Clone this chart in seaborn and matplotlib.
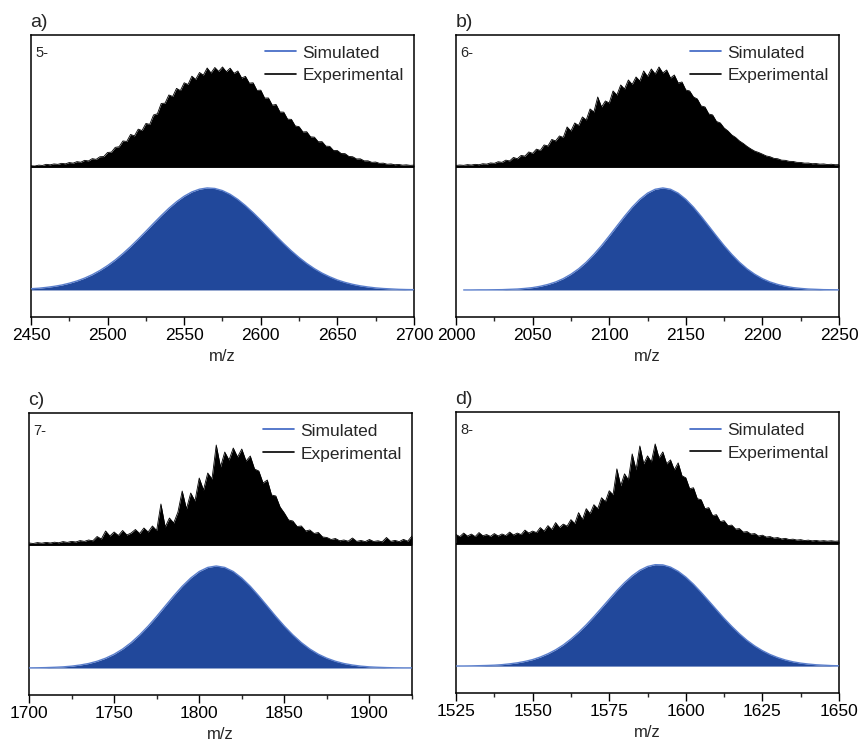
import numpy as np
import pandas as pd
import matplotlib
matplotlib.use("Agg")
import matplotlib.pyplot as plt
from matplotlib.ticker import MultipleLocator, AutoMinorLocator
from matplotlib.lines import Line2D
import seaborn as sns

# ---------------- data ----------------
panel_letters = ["a)", "b)", "c)", "d)"]
charge_states = ["5-", "6-", "7-", "8-"]
x_ranges = [(2450, 2700), (2000, 2250), (1700, 1925), (1525, 1650)]
x_major = [50, 50, 50, 25]

# experimental spectra (relative intensity, %), sampled on a regular m/z grid
exp_grid = [(2450, 2.5), (2000, 2.5), (1700, 2.5), (1525, 1.25)]

exp_5 = [
    1.2, 0.9, 1.8, 1.5, 2.6, 2.1, 3.0, 2.6, 3.6, 3.1,
    4.4, 3.8, 5.3, 4.7, 6.6, 6.0, 8.3, 7.6, 10.2, 10.4,
    14.5, 14.8, 19.6, 20.2, 26.0, 25.5, 32.5, 31.0, 37.8, 36.4,
    43.5, 42.6, 52.0, 53.2, 63.5, 63.8, 72.0, 70.5, 78.6, 76.4,
    84.2, 82.5, 90.8, 87.6, 94.5, 91.8, 99.0, 94.0, 99.5, 95.6,
    100.0, 95.2, 98.8, 93.6, 96.0, 89.0, 90.6, 83.8, 84.2, 76.6,
    76.8, 68.9, 69.0, 61.8, 62.5, 55.0, 54.8, 47.8, 47.6, 41.0,
    40.3, 35.0, 35.2, 30.1, 29.8, 25.2, 25.3, 20.8, 20.6, 16.4,
    16.4, 13.4, 13.3, 10.5, 10.2, 8.0, 8.1, 6.1, 6.1, 4.6,
    4.9, 3.6, 3.8, 2.7, 3.0, 2.2, 2.5, 1.8, 2.1, 1.6,
    1.8,
]
exp_6 = [
    1.5, 1.9, 1.6, 2.3, 1.9, 2.6, 2.2, 3.2, 2.8, 4.0,
    3.6, 5.2, 4.6, 6.8, 6.0, 9.5, 8.2, 11.5, 10.8, 15.0,
    13.6, 17.8, 16.5, 22.0, 21.0, 27.5, 26.0, 31.0, 29.5, 40.0,
    36.0, 44.0, 41.5, 50.0, 47.0, 58.0, 55.0, 70.0, 60.0, 66.0,
    64.0, 76.0, 72.0, 82.0, 78.0, 87.0, 82.5, 90.0, 86.0, 96.0,
    90.5, 98.0, 93.0, 100.0, 94.0, 97.0, 89.0, 92.0, 84.0, 85.0,
    77.0, 76.0, 70.0, 68.0, 61.0, 60.0, 53.0, 52.0, 45.5, 44.0,
    39.0, 36.0, 32.0, 29.5, 26.0, 23.5, 20.5, 18.0, 15.8, 14.5,
    12.8, 11.0, 10.2, 8.6, 8.2, 6.8, 6.6, 5.6, 5.5, 4.6,
    4.5, 3.8, 3.9, 3.2, 3.4, 2.8, 3.0, 2.4, 2.7, 2.2,
    2.3,
]
exp_7 = [
    2.0, 1.5, 2.4, 1.8, 2.6, 2.0, 2.8, 2.2, 3.4, 2.6,
    3.6, 3.0, 4.4, 3.6, 5.0, 4.2, 8.5, 6.0, 14.0, 9.0,
    13.0, 9.5, 14.5, 10.0, 12.0, 15.5, 11.5, 17.0, 13.0, 19.0,
    14.5, 41.0, 18.0, 27.0, 22.0, 33.0, 54.0, 36.0, 52.0, 44.0,
    67.0, 55.0, 72.0, 66.0, 100.0, 78.0, 93.0, 85.0, 97.0, 88.0,
    96.0, 84.0, 89.0, 76.0, 74.0, 62.0, 65.0, 50.0, 49.0, 38.0,
    32.0, 25.0, 24.0, 18.5, 19.0, 14.0, 15.0, 11.5, 12.5, 8.0,
    7.5, 5.5, 6.5, 4.2, 5.0, 3.8, 7.0, 3.6, 4.5, 3.4,
    5.5, 3.5, 4.2, 3.2, 7.5, 3.6, 4.6, 3.4, 5.6, 3.8,
    9.0,
]
exp_8 = [
    9.0, 7.0, 10.5, 7.5, 9.5, 7.0, 11.0, 7.8, 9.0, 7.2,
    10.0, 7.6, 9.6, 8.0, 11.5, 8.6, 10.5, 9.0, 13.5, 10.5,
    12.5, 11.0, 16.0, 12.5, 18.0, 14.0, 21.0, 16.0, 19.5, 17.5,
    24.0, 20.0, 31.0, 24.0, 35.0, 30.0, 39.0, 35.0, 46.0, 42.0,
    53.0, 49.0, 75.0, 58.0, 70.0, 64.0, 90.0, 74.0, 98.0, 80.0,
    88.0, 82.0, 100.0, 86.0, 92.0, 80.0, 84.0, 74.0, 81.0, 68.0,
    66.0, 55.0, 56.0, 45.0, 44.0, 35.0, 36.0, 28.0, 29.0, 22.0,
    23.0, 18.0, 18.5, 14.5, 15.0, 11.5, 12.0, 9.5, 10.0, 7.5,
    8.4, 6.5, 7.0, 5.5, 6.0, 4.6, 5.2, 4.0, 4.4, 3.5,
    3.9, 3.0, 3.4, 2.7, 3.1, 2.5, 2.9, 2.4, 2.8, 2.3,
    2.6,
]

# simulated isotope envelopes (relative intensity, %)
sim_grid = [(2450, 5), (2005, 5), (1700, 5), (1525, 2.5)]

sim_5 = [
    1.2, 1.7, 2.5, 3.5, 4.8, 6.6, 8.8, 11.6, 15.0, 19.1,
    23.9, 29.4, 35.7, 42.5, 49.9, 57.5, 65.3, 72.9, 80.1, 86.5,
    91.9, 96.1, 98.8, 100.0, 99.5, 97.4, 93.8, 88.8, 82.7, 75.8,
    68.4, 60.7, 52.9, 45.4, 38.3, 31.8, 26.0, 20.9, 16.5, 12.9,
    9.8, 7.4, 5.5, 4.0, 2.9, 2.0, 1.4, 1.0, 0.6, 0.4,
    0.3,
]
sim_6 = [
    0.0, 0.0, 0.1, 0.1, 0.2, 0.3, 0.6, 0.9, 1.5, 2.3,
    3.6, 5.4, 7.8, 11.1, 15.4, 20.7, 27.2, 34.9, 43.5, 52.9,
    62.6, 72.2, 81.2, 88.9, 94.9, 98.7, 100.0, 98.7, 94.9, 88.9,
    81.2, 72.2, 62.6, 52.9, 43.5, 34.9, 27.2, 20.7, 15.4, 11.1,
    7.8, 5.4, 3.6, 2.3, 1.5, 0.9, 0.6, 0.3, 0.2, 0.1,
    0.1,
]
sim_7 = [
    0.1, 0.2, 0.4, 0.7, 1.1, 1.8, 2.9, 4.4, 6.6, 9.6,
    13.5, 18.6, 24.9, 32.5, 41.1, 50.6, 60.7, 70.7, 80.1, 88.2,
    94.6, 98.6, 100.0, 98.6, 94.6, 88.2, 80.1, 70.7, 60.7, 50.6,
    41.1, 32.5, 24.9, 18.6, 13.5, 9.6, 6.6, 4.4, 2.9, 1.8,
    1.1, 0.7, 0.4, 0.2, 0.1, 0.1, 0.0,
]
sim_8 = [
    0.1, 0.1, 0.2, 0.4, 0.6, 0.9, 1.4, 2.2, 3.2, 4.6,
    6.4, 8.9, 12.1, 16.0, 20.8, 26.6, 33.2, 40.6, 48.7, 57.2,
    65.8, 74.3, 82.1, 88.9, 94.3, 98.0, 99.8, 99.6, 97.4, 93.3,
    87.6, 80.6, 72.6, 64.1, 55.5, 47.0, 39.1, 31.8, 25.3, 19.8,
    15.2, 11.4, 8.4, 6.0, 4.2, 2.9, 2.0, 1.3, 0.9, 0.5,
    0.3,
]

exp_series = [exp_5, exp_6, exp_7, exp_8]
sim_series = [sim_5, sim_6, sim_7, sim_8]

# ---------------- style ----------------
sns.set_theme(style="ticks")
plt.rcParams["font.family"] = ["Liberation Sans", "DejaVu Sans"]
plt.rcParams["axes.linewidth"] = 1.1

FILL_BLUE = "#21489b"
LINE_BLUE = "#5b7fcc"
LEGEND_BLUE = "#3a62c2"

EXP_OFFSET = 120.6   # vertical offset of the experimental trace
EXP_SCALE = 0.98
YLIM = (-26.5, 250)

fig = plt.figure(figsize=(8.63, 7.42), dpi=100)
positions = [
    [0.0359, 0.5728, 0.4438, 0.3801],
    [0.5284, 0.5728, 0.4438, 0.3801],
    [0.0336, 0.0633, 0.4438, 0.3801],
    [0.5284, 0.0660, 0.4438, 0.3787],
]


def mz_axis(spec, n):
    start, step = spec
    return start + step * np.arange(n)


for i in range(4):
    ax = fig.add_axes(positions[i])
    ex = np.asarray(exp_series[i], dtype=float)
    sm = np.asarray(sim_series[i], dtype=float)
    df_e = pd.DataFrame({"mz": mz_axis(exp_grid[i], len(ex)),
                         "y": EXP_OFFSET + EXP_SCALE * ex})
    df_s = pd.DataFrame({"mz": mz_axis(sim_grid[i], len(sm)), "y": sm})

    # simulated envelope
    ax.fill_between(df_s["mz"], 0, df_s["y"], color=FILL_BLUE, lw=0, zorder=2)
    sns.lineplot(data=df_s, x="mz", y="y", ax=ax, color=LINE_BLUE, lw=1.0,
                 zorder=3, legend=False)

    # experimental spectrum
    ax.fill_between(df_e["mz"], EXP_OFFSET, df_e["y"], color="black", lw=0, zorder=2)
    sns.lineplot(data=df_e, x="mz", y="y", ax=ax, color="black", lw=0.6,
                 zorder=3, legend=False)
    ax.axhline(EXP_OFFSET, color="black", lw=1.3, zorder=4)

    ax.set_xlim(*x_ranges[i])
    ax.set_ylim(*YLIM)
    ax.xaxis.set_major_locator(MultipleLocator(x_major[i]))
    ax.xaxis.set_minor_locator(AutoMinorLocator(2))
    ax.set_yticks([])
    ax.set_ylabel("")
    ax.set_xlabel("m/z", fontsize=12, labelpad=4)
    ax.tick_params(axis="x", which="major", direction="out", length=6, width=1.0,
                   labelsize=12.5, pad=2, colors="black")
    ax.tick_params(axis="x", which="minor", direction="out", length=3, width=1.0)
    for sp in ax.spines.values():
        sp.set_visible(True)
        sp.set_color("black")
        sp.set_linewidth(1.1)

    ax.text(0.012, 0.962, charge_states[i], transform=ax.transAxes,
            ha="left", va="top", fontsize=10.5)
    ax.text(-0.002, 1.015, panel_letters[i], transform=ax.transAxes,
            ha="left", va="bottom", fontsize=14)

    handles = [Line2D([], [], color=LEGEND_BLUE, lw=1.2),
               Line2D([], [], color="black", lw=1.2)]
    ax.legend(handles, ["Simulated", "Experimental"], loc="upper right",
              frameon=False, fontsize=12.5, handlelength=1.8, handletextpad=0.35,
              borderaxespad=0.1, borderpad=0.5, labelspacing=0.45)

fig.savefig("out.png", dpi=100)
